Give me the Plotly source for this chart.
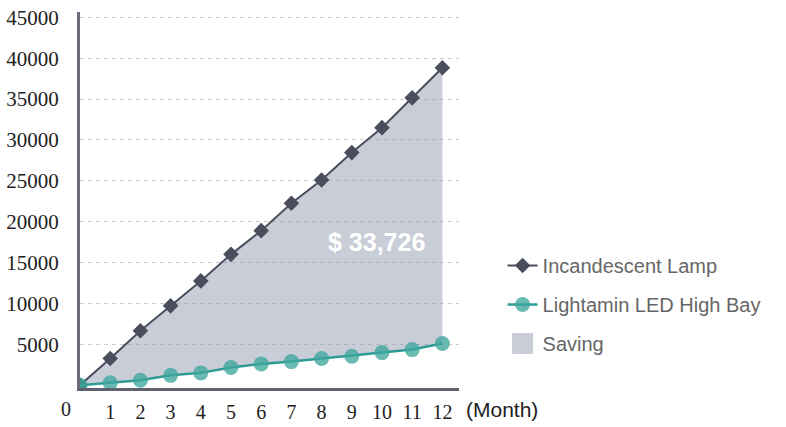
import plotly.graph_objects as go

# Monthly cumulative electricity cost (USD)
months = list(range(13))
incandescent = [0, 3250, 6650, 9700, 12750, 16000, 18900, 22250, 25100, 28450, 31500, 35150, 38826]
led_high_bay = [0, 300, 600, 1200, 1500, 2150, 2600, 2880, 3250, 3530, 3980, 4350, 5100]
y_ticks = [5000, 10000, 15000, 20000, 25000, 30000, 35000, 40000, 45000]
x_ticks = list(range(1, 13))

saving = incandescent[-1] - led_high_bay[-1]

SLATE = "#4a4e5c"
TEAL = "#2e9c94"
TEAL_MARK = "rgba(62,166,157,0.78)"
FILL = "rgba(148,156,178,0.5)"
SERIF = "Liberation Serif, Times New Roman, serif"
SANS = "Liberation Sans, Arial, sans-serif"

X_MAX = 12.55

fig = go.Figure()

# shaded saving area between the two cost curves
fig.add_trace(go.Scatter(x=months, y=led_high_bay, mode="lines",
                         line=dict(width=0, color=FILL), showlegend=False,
                         hoverinfo="skip"))
fig.add_trace(go.Scatter(x=months, y=incandescent, mode="none", fill="tonexty",
                         fillcolor=FILL, showlegend=False, hoverinfo="skip"))

fig.add_trace(go.Scatter(x=months, y=incandescent, mode="lines+markers",
                         name="Incandescent Lamp", legendgroup="a",
                         line=dict(color=SLATE, width=2),
                         marker=dict(symbol="diamond", size=12, color=SLATE)))
fig.add_trace(go.Scatter(x=months, y=led_high_bay, mode="lines+markers",
                         name="Lightamin LED High Bay", legendgroup="b",
                         line=dict(color=TEAL, width=2.5),
                         marker=dict(symbol="circle", size=15, color=TEAL_MARK)))
# legend key for the shaded area
fig.add_trace(go.Scatter(x=[None], y=[None], mode="markers", name="Saving",
                         legendgroup="c",
                         marker=dict(symbol="square", size=16, color="#c9cdd7",
                                     line=dict(color="#c9cdd7", width=5))))

fig.add_annotation(x=9.83, y=17540, xref="x", yref="y",
                   text=f"$ {saving:,}", showarrow=False,
                   font=dict(family=SANS, size=25, color="white", weight="bold"))
# origin label and unit label below the x axis
fig.add_annotation(x=-0.46 / X_MAX, y=0, xref="paper", yref="paper",
                   xanchor="center", yanchor="top",
                   yshift=-8, text="0", showarrow=False,
                   font=dict(family=SERIF, size=20, color="#222"))
fig.add_annotation(x=12.73 / X_MAX, y=0, xref="paper", yref="paper", xanchor="left",
                   yanchor="top", yshift=-8, text="(Month)", showarrow=False,
                   font=dict(family=SANS, size=21, color="#222"))

fig.update_layout(
    width=786, height=427,
    margin=dict(l=80, r=327, t=12, b=39),
    plot_bgcolor="white", paper_bgcolor="white",
    showlegend=True,
    legend=dict(x=1.115, y=0.222, xanchor="left", yanchor="middle",
                font=dict(family=SANS, size=20, color="#666"),
                tracegroupgap=10, bgcolor="rgba(0,0,0,0)"),
    xaxis=dict(range=[0, X_MAX], tickvals=x_ticks, ticktext=[str(v) for v in x_ticks],
               showgrid=False, zeroline=False, showline=True, automargin=False,
               linecolor="#5f626e", linewidth=3,
               ticks="outside", ticklen=4, tickcolor="rgba(0,0,0,0)",
               tickfont=dict(family=SERIF, size=20, color="#222")),
    yaxis=dict(range=[-350, 45650], tickvals=y_ticks, ticktext=[str(v) for v in y_ticks],
               showgrid=True, gridcolor="#cccccc", gridwidth=1, griddash="4px,4px",
               zeroline=False, showline=True, linecolor="#6b6e7a", linewidth=3,
               ticks="", ticklabelstandoff=14, automargin=False,
               tickfont=dict(family=SERIF, size=21, color="#222")),
)

fig.write_html("out.html")
